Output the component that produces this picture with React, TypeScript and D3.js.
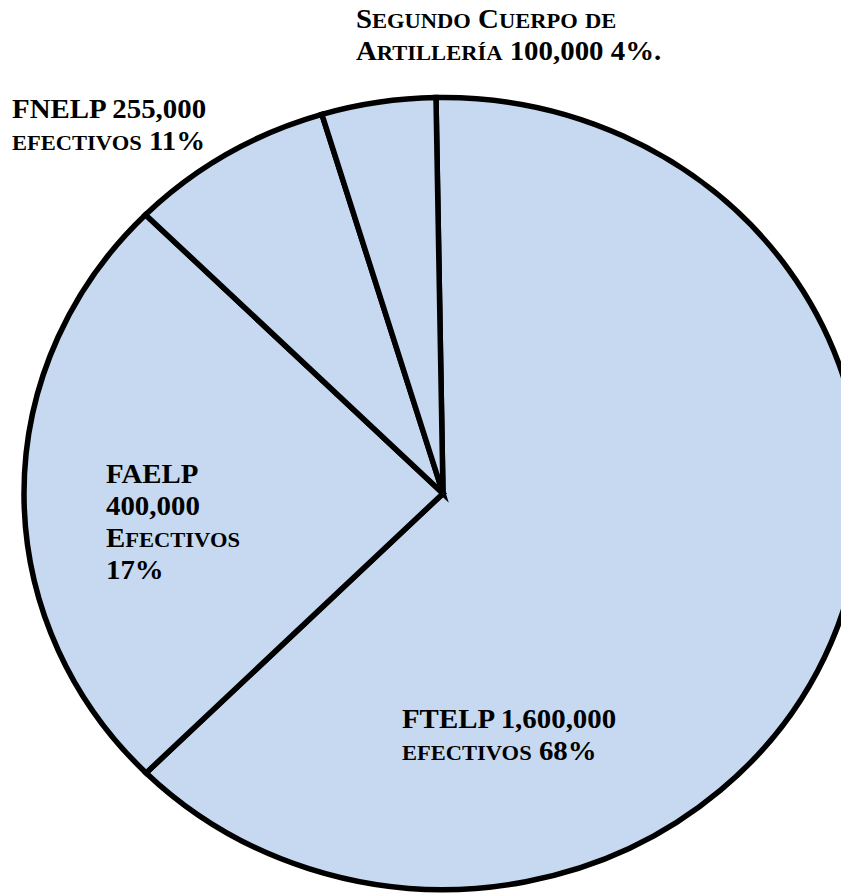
import React from "react";
import * as d3 from "d3";

// slice sizes as they are drawn in the picture (share of the full turn, %)
const categories = ["FTELP", "FAELP", "FNELP", "Segundo Cuerpo de Artillería"];
const shares = [62.8, 24.9, 7.9, 4.4];

// label text, one array of lines per slice (lowercase -> small caps)
const labelLines = [
  ["FTELP 1,600,000", "efectivos 68%"],
  ["FAELP", "400,000", "Efectivos", "17%"],
  ["FNELP 255,000", "efectivos 11%"],
  ["Segundo Cuerpo de", "Artillería 100,000 4%."],
];

const labelPos = [
  { x: 402, y: 728 },
  { x: 106, y: 483 },
  { x: 12, y: 118 },
  { x: 356, y: 28 },
];

const W = 841;
const H = 894;
const cx = 443;
const cy = 493.5;
const r = 396;
const stretch = 419 / 396;
const startDeg = -0.96;
const fontSize = 27.3;
const scScale = 0.78;
const lineGap = 32;

type Slice = { name: string; value: number };

// split a string into runs of "big" and "small caps" characters
function runs(s: string) {
  const out: { t: string; small: boolean }[] = [];
  for (const ch of s) {
    const small = ch !== ch.toUpperCase() && ch === ch.toLowerCase();
    const last = out[out.length - 1];
    if (last && last.small === small) last.t += small ? ch.toUpperCase() : ch;
    else out.push({ t: small ? ch.toUpperCase() : ch, small });
  }
  return out;
}

export default function App() {
  const data: Slice[] = categories.map((c, i) => ({ name: c, value: shares[i] }));

  const pie = d3
    .pie<Slice>()
    .sort(null)
    .value((d) => d.value)
    .startAngle((startDeg * Math.PI) / 180)
    .endAngle(((startDeg + 360) * Math.PI) / 180);

  const arc = d3.arc<d3.PieArcDatum<Slice>>().innerRadius(0).outerRadius(r);
  const arcs = pie(data);

  return (
    <svg
      width={W}
      height={H}
      style={{ position: "absolute", left: 0, top: 0 }}
    >
      <g transform={`translate(${cx},${cy}) scale(${stretch},1)`}>
        {arcs.map((a, i) => (
          <path
            key={i}
            d={arc(a) || ""}
            fill="#c6d9f0"
            stroke="#000"
            strokeWidth={5.5}
            vectorEffect="non-scaling-stroke"
          />
        ))}
      </g>
      <g
        transform={`scale(${stretch},1)`}
        fontFamily="'Liberation Serif', 'Times New Roman', serif"
        fontWeight="bold"
        fontSize={fontSize}
        fill="#000"
      >
        {labelLines.map((lines, i) => (
          <text key={i} x={labelPos[i].x / stretch} y={labelPos[i].y}>
            {lines.map((l, j) => (
              <tspan key={j} x={labelPos[i].x / stretch} dy={j === 0 ? 0 : lineGap}>
                {runs(l).map((run, k) => (
                  <tspan key={k} fontSize={run.small ? fontSize * scScale : fontSize}>
                    {run.t}
                  </tspan>
                ))}
              </tspan>
            ))}
          </text>
        ))}
      </g>
    </svg>
  );
}
